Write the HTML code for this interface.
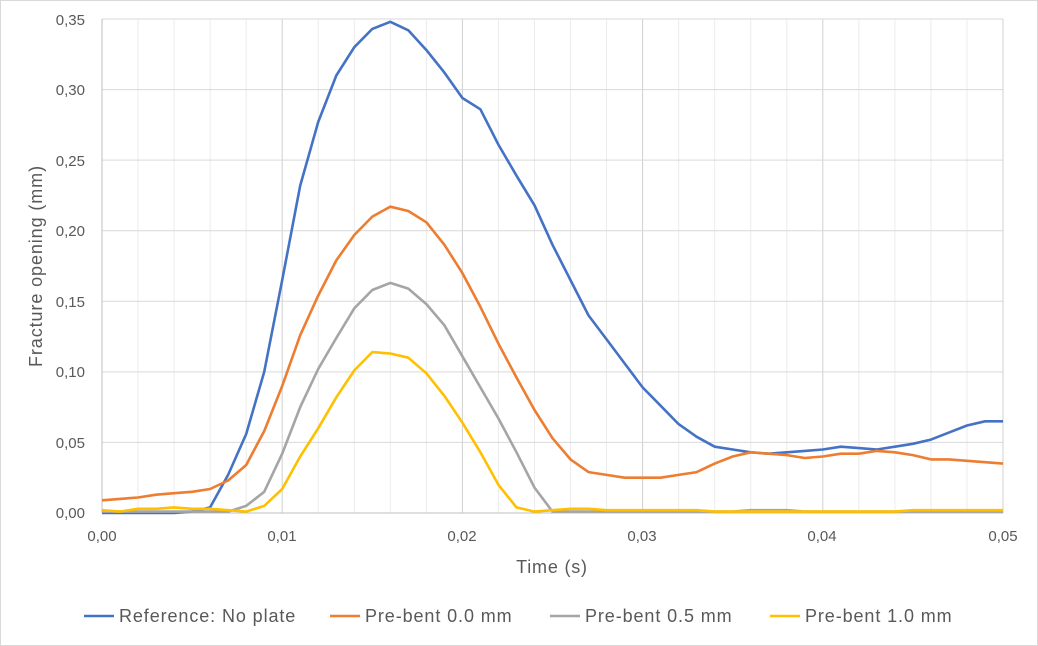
<!DOCTYPE html>
<html><head><meta charset="utf-8"><style>
html,body{margin:0;padding:0;background:#fff;}
svg{display:block;font-family:"Liberation Sans",sans-serif;}
</style></head><body>
<svg id="s" width="1038" height="646" xmlns="http://www.w3.org/2000/svg">
<rect x="0.5" y="0.5" width="1037" height="645" fill="#fff" stroke="#d9d9d9"/>
<g id="grid"></g>
<g id="lines" fill="none" stroke-width="2.6" stroke-linejoin="round"></g>
<g fill="#595959" font-size="15">
<text x="85" y="518" text-anchor="end">0,00</text>
<text x="85" y="448" text-anchor="end">0,05</text>
<text x="85" y="377" text-anchor="end">0,10</text>
<text x="85" y="307" text-anchor="end">0,15</text>
<text x="85" y="236" text-anchor="end">0,20</text>
<text x="85" y="166" text-anchor="end">0,25</text>
<text x="85" y="95" text-anchor="end">0,30</text>
<text x="85" y="25" text-anchor="end">0,35</text>
<text x="102" y="541" text-anchor="middle">0,00</text>
<text x="282" y="541" text-anchor="middle">0,01</text>
<text x="462" y="541" text-anchor="middle">0,02</text>
<text x="642" y="541" text-anchor="middle">0,03</text>
<text x="822" y="541" text-anchor="middle">0,04</text>
<text x="1003" y="541" text-anchor="middle">0,05</text>
<text x="552" y="573" text-anchor="middle" font-size="18" letter-spacing="0.8">Time (s)</text>
<text transform="translate(42,266) rotate(-90)" text-anchor="middle" font-size="18" letter-spacing="0.9">Fracture opening (mm)</text>
<g font-size="18" letter-spacing="0.9">
<line x1="84" y1="616" x2="114" y2="616" stroke="#4472c4" stroke-width="2.6"/><text x="119" y="622">Reference: No plate</text>
<line x1="330" y1="616" x2="360" y2="616" stroke="#ed7d31" stroke-width="2.6"/><text x="365" y="622">Pre-bent 0.0 mm</text>
<line x1="550" y1="616" x2="580" y2="616" stroke="#a5a5a5" stroke-width="2.6"/><text x="585" y="622">Pre-bent 0.5 mm</text>
<line x1="770" y1="616" x2="800" y2="616" stroke="#ffc000" stroke-width="2.6"/><text x="805" y="622">Pre-bent 1.0 mm</text>
</g>
</g>
</svg>
<script>
function X(t){return 102+t*18.02;}
function Y(v){return 513-v*1411.4;}
var g=document.getElementById("grid"),h="";
for(var t=2;t<=50;t+=2){var maj=t%10==0;h+='<line x1="'+X(t)+'" y1="19" x2="'+X(t)+'" y2="513" stroke="'+(maj?'#d0d0d0':'#ececec')+'" stroke-width="1"/>';}
for(var v=0.05;v<0.36;v+=0.05){h+='<line x1="102" y1="'+Y(v)+'" x2="1003" y2="'+Y(v)+'" stroke="#d9d9d9" stroke-width="1"/>';}
h+='<line x1="102" y1="19" x2="102" y2="513" stroke="#bfbfbf"/><line x1="102" y1="513" x2="1003" y2="513" stroke="#bfbfbf"/>';
g.innerHTML=h;
var B=[0,0,0,0,0,0.001,0.004,0.027,0.056,0.1,0.165,0.232,0.277,0.31,0.33,0.343,0.348,0.342,0.328,0.312,0.294,0.286,0.261,0.239,0.218,0.19,0.165,0.14,0.123,0.106,0.089,0.076,0.063,0.054,0.047,0.045,0.043,0.042,0.043,0.044,0.045,0.047,0.046,0.045,0.047,0.049,0.052,0.057,0.062,0.065,0.065];
var O=[0.009,0.01,0.011,0.013,0.014,0.015,0.017,0.023,0.034,0.058,0.09,0.126,0.154,0.179,0.197,0.21,0.217,0.214,0.206,0.19,0.17,0.146,0.12,0.096,0.073,0.053,0.038,0.029,0.027,0.025,0.025,0.025,0.027,0.029,0.035,0.04,0.043,0.042,0.041,0.039,0.04,0.042,0.042,0.044,0.043,0.041,0.038,0.038,0.037,0.036,0.035];
var G=[0.001,0.001,0.001,0.001,0.001,0.001,0.001,0.001,0.005,0.015,0.042,0.075,0.102,0.124,0.145,0.158,0.163,0.159,0.148,0.133,0.111,0.089,0.067,0.043,0.018,0.001,0.001,0.001,0.001,0.001,0.001,0.001,0.001,0.001,0.001,0.001,0.002,0.002,0.002,0.001,0.001,0.001,0.001,0.001,0.001,0.001,0.001,0.001,0.001,0.001,0.001];
var Yl=[0.002,0.001,0.003,0.003,0.004,0.003,0.003,0.002,0.001,0.005,0.017,0.04,0.06,0.082,0.101,0.114,0.113,0.11,0.099,0.083,0.064,0.043,0.02,0.004,0.001,0.002,0.003,0.003,0.002,0.002,0.002,0.002,0.002,0.002,0.001,0.001,0.001,0.001,0.001,0.001,0.001,0.001,0.001,0.001,0.001,0.002,0.002,0.002,0.002,0.002,0.002];
var L=document.getElementById("lines"),s="";
[[B,"#4472c4"],[O,"#ed7d31"],[G,"#a5a5a5"],[Yl,"#ffc000"]].forEach(function(a){
var p=a[0].map(function(v,i){return X(i).toFixed(1)+","+Y(v).toFixed(1);}).join(" ");
s+='<polyline points="'+p+'" stroke="'+a[1]+'"/>';});
L.innerHTML=s;
</script>
</body></html>
